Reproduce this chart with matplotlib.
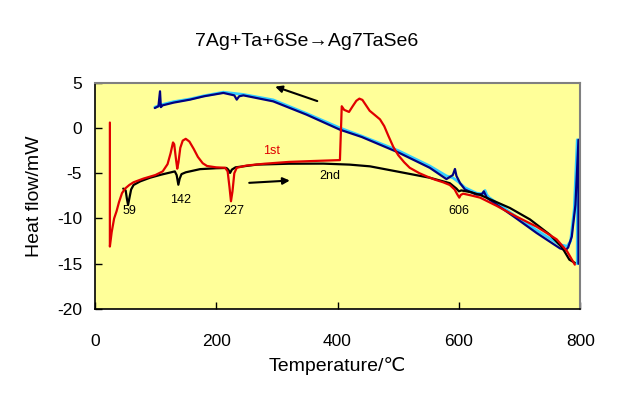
import matplotlib
matplotlib.use("Agg")
import matplotlib.pyplot as plt
from matplotlib import font_manager

names = {f.name for f in font_manager.fontManager.ttflist}
base = 'Liberation Sans Narrow' if 'Liberation Sans Narrow' in names else 'Liberation Sans'
FAM = [base, 'DejaVu Sans']
plt.rcParams['font.family'] = FAM

# 1st heating (red)
red_T = [25, 25, 28, 32, 36, 40, 45, 50, 57, 64, 80, 100, 112, 120, 125, 129, 131, 134, 136, 138, 141, 145,
         150, 156, 163, 170, 178, 185, 200, 215, 219, 222, 224.5, 227, 230, 234, 250, 280, 320, 360, 404,
         407, 411, 419, 425, 431, 436, 441, 447, 453, 462, 470, 477, 484, 492, 500, 510, 519, 535, 547,
         560, 574, 585, 593, 597, 600.7, 603, 607, 620, 635, 662, 695, 728, 761, 778, 791]
red_v = [0.6, -13.1, -11.5, -10.0, -9.2, -8.2, -7.2, -6.7, -6.3, -6.0, -5.6, -5.2, -4.8, -4.0, -2.8, -1.6, -1.8, -3.5,
         -4.5, -3.8, -2.2, -1.4, -1.2, -1.5, -2.3, -3.2, -3.9, -4.2, -4.35, -4.4, -4.8, -6.5, -8.1, -7.0, -5.0,
         -4.4, -4.15, -3.95, -3.75, -3.65, -3.55, 2.4, 2.0, 1.77, 2.4, 3.0, 3.24, 3.1, 2.5, 1.9, 1.4, 0.95, 0.2,
         -0.9, -2.1, -3.0, -3.8, -4.4, -5.0, -5.35, -5.7, -6.0, -6.3, -6.8, -7.3, -7.7, -7.4, -7.26, -7.45,
         -7.7, -8.6, -9.8, -10.9, -12.3, -13.6, -15.1]

# 2nd heating (black)
blk_T = [47, 51, 53, 55, 57, 60, 64, 75, 91, 110, 132, 135, 137.8, 140, 143, 150, 173.5, 200, 217, 220, 223,
         226, 232, 267, 320, 376.6, 420, 453.5, 497.5, 552, 585, 596, 600, 604, 620, 635, 684, 717, 750, 770,
         782, 791]
blk_v = [-6.7, -6.9, -7.8, -8.5, -7.8, -6.8, -6.3, -5.9, -5.5, -5.15, -4.8, -5.2, -6.27, -5.6, -5.1, -4.9,
         -4.55, -4.45, -4.42, -4.6, -4.97, -4.6, -4.35, -4.05, -3.95, -3.94, -4.05, -4.24, -4.8, -5.5, -6.1,
         -6.7, -7.0, -6.9, -7.1, -7.4, -8.84, -10.1, -11.8, -13.2, -14.55, -14.9]

# cooling (navy)
nav_T = [797, 797, 792, 786, 780, 776, 766.5, 728, 690, 650, 646, 641, 638, 629, 610, 602, 596, 593.5, 590,
         579.5, 552, 500, 440, 404, 349, 294, 245, 238, 234, 230, 212, 180, 157, 130, 112, 109, 107.6, 105, 99]
nav_v = [-15, -1.3, -8.5, -12.0, -13.2, -13.5, -13.3, -11.6, -9.77, -7.9, -7.7, -7.0, -7.3, -7.37, -6.8, -6.1,
         -5.3, -4.53, -5.2, -5.65, -4.4, -2.7, -1.0, -0.19, 1.47, 2.94, 3.6, 3.5, 3.13, 3.6, 3.87, 3.5, 3.13,
         2.8, 2.5, 2.3, 4.05, 2.4, 2.2]

# cooling (cyan)
cya_T = [795, 795, 790, 784, 778, 774, 766.5, 728, 690, 650, 646, 643, 640, 629, 610, 600, 590, 579.5,
         552, 500, 440, 404, 349, 294, 245, 212, 180, 157, 130, 112, 99]
cya_v = [-15, -1.3, -9.0, -12.5, -13.1, -13.0, -12.9, -11.3, -9.6, -7.7, -7.4, -6.9, -7.3, -7.2, -6.6, -6.0,
         -5.5, -5.3, -4.2, -2.5, -0.9, 0.0, 1.6, 3.1, 3.7, 3.95, 3.55, 3.2, 2.9, 2.6, 2.3]

peak_T = [57, 142, 229.5, 600]
peak_lbl = ['59', '142', '227', '606']
peak_y = [-9.2, -8.0, -9.2, -9.2]

fig = plt.figure(figsize=(6.26, 3.93), dpi=100)
ax = fig.add_axes([94.7/626, 1-309/393, (580.3-94.7)/626, (309-82.7)/393])
ax.set_facecolor('#FFFF99')

kw = dict(solid_joinstyle='round', solid_capstyle='round')
ax.plot(cya_T, cya_v, color='#33CCFF', lw=2.0, **kw)
ax.plot(nav_T, nav_v, color='#000080', lw=1.6, **kw)
ax.plot(blk_T, blk_v, color='black', lw=1.6, **kw)
ax.plot(red_T, red_v, color='#E00000', lw=1.6, **kw)

ax.set_xlim(0, 800)
ax.set_ylim(-20, 5)
ax.set_xticks([0, 200, 400, 600, 800])
ax.set_yticks([5, 0, -5, -10, -15, -20])
ax.set_yticklabels(['5', '0', '-5', '-10', '-15', '-20'])
ax.tick_params(direction='in', length=5, labelsize=12.5, width=1)
ax.tick_params(axis='x', pad=18)
ax.tick_params(axis='y', pad=9)
for s in ['top', 'right']:
    ax.spines[s].set_color('#808080')
    ax.spines[s].set_linewidth(1.5)
for s in ['left', 'bottom']:
    ax.spines[s].set_color('black')
    ax.spines[s].set_linewidth(1.2)

ax.set_xlabel('Temperature/\u2103', fontsize=14, family=FAM, labelpad=6)
ax.set_ylabel('Heat flow/mW', fontsize=14, family=FAM, labelpad=10)
fig.text(307/626, 1-41/393, '7Ag+Ta+6Se\u2192Ag7TaSe6', fontsize=14, family=FAM,
         ha='center', va='center')

ax.annotate('', xy=(293, 4.67), xytext=(371, 2.87),
            arrowprops=dict(arrowstyle='-|>', color='black', lw=1.5, mutation_scale=10))
ax.annotate('', xy=(326, -5.79), xytext=(250, -6.08),
            arrowprops=dict(arrowstyle='-|>', color='black', lw=1.5, mutation_scale=10))

ax.text(291.5, -2.58, '1st', color='#E00000', fontsize=9, ha='center', va='center')
ax.text(387.6, -5.27, '2nd', color='black', fontsize=9, ha='center', va='center')
for t, l, y in zip(peak_T, peak_lbl, peak_y):
    ax.text(t, y, l, fontsize=9, ha='center', va='center')

fig.savefig('out.png', dpi=100)
